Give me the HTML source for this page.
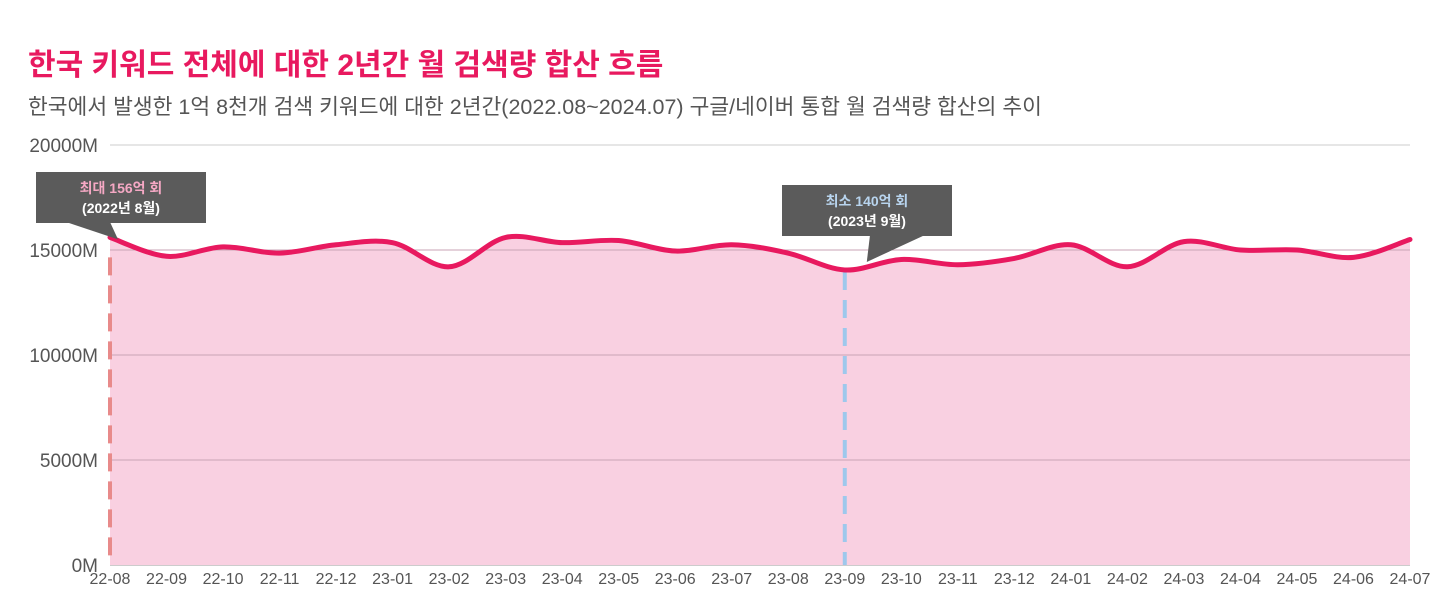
<!DOCTYPE html>
<html><head><meta charset="utf-8">
<style>
body{margin:0;background:#fff;width:1440px;height:602px;overflow:hidden;font-family:"Liberation Sans","Noto Sans CJK KR",sans-serif}
#title{position:absolute;left:28px;top:40px;font-size:30px;font-weight:bold;color:#e8195f;margin:0}
#sub{position:absolute;left:28px;top:90px;font-size:21.5px;color:#555;margin:0}
svg{position:absolute;left:0;top:0}
</style></head><body>
<h1 id="title">한국 키워드 전체에 대한 2년간 월 검색량 합산 흐름</h1>
<p id="sub">한국에서 발생한 1억 8천개 검색 키워드에 대한 2년간(2022.08~2024.07) 구글/네이버 통합 월 검색량 합산의 추이</p>
<svg id="chart" width="1440" height="602"></svg>
<script>
const categories=["22-08","22-09","22-10","22-11","22-12","23-01","23-02","23-03","23-04","23-05","23-06","23-07","23-08","23-09","23-10","23-11","23-12","24-01","24-02","24-03","24-04","24-05","24-06","24-07"];
const values=[15600,14700,15150,14850,15250,15350,14200,15600,15350,15450,14950,15250,14850,14050,14550,14300,14600,15250,14200,15400,15000,15000,14650,15500];
const yTicks=[0,5000,10000,15000,20000];
const yTickLabels=["0M","5000M","10000M","15000M","20000M"];
const NS="http://www.w3.org/2000/svg";
const svg=document.getElementById('chart');
const x0=110,x1=1410,yb=565,yt=145;
const xs=i=>x0+i*(x1-x0)/(categories.length-1);
const ys=v=>yb-v/20000*(yb-yt);
function mk(t,a,p){const e=document.createElementNS(NS,t);for(const k in a)e.setAttribute(k,a[k]);(p||svg).appendChild(e);return e;}
yTicks.forEach((v,i)=>{
 const l=mk('line',{x1:x0,x2:x1,y1:ys(v),y2:ys(v),stroke:i==0?'#999':(i==4?'#ccc':'#c9aab8'),'stroke-width':1});
 
 
 const t=mk('text',{x:x0-12,y:ys(v)+7,'text-anchor':'end','font-size':19,fill:'#555'});
 t.textContent=yTickLabels[i];
 
 
});
const pts=values.map((v,i)=>[xs(i),ys(v)]);
let d=`M${pts[0][0]},${pts[0][1]}`;
for(let i=0;i<pts.length-1;i++){
 const p0=pts[Math.max(0,i-1)],p1=pts[i],p2=pts[i+1],p3=pts[Math.min(pts.length-1,i+2)];
 const c1=[p1[0]+(p2[0]-p0[0])/6,p1[1]+(p2[1]-p0[1])/6],c2=[p2[0]-(p3[0]-p1[0])/6,p2[1]-(p3[1]-p1[1])/6];
 d+=`C${c1[0]},${c1[1]} ${c2[0]},${c2[1]} ${p2[0]},${p2[1]}`;
}
const area=mk('path',{d:d+`L${x1},${yb}L${x0},${yb}Z`,fill:'#f9d0e1'});


yTicks.slice(1,4).forEach(v=>{const l=mk('line',{x1:x0,x2:x1,y1:ys(v),y2:ys(v),stroke:'#c9a3b5','stroke-width':1});
 
 });
let maxI=0,minI=0;values.forEach((v,i)=>{if(v>values[maxI])maxI=i;if(v<values[minI])minI=i;});
const mx=mk('line',{x1:xs(maxI),x2:xs(maxI),y1:ys(values[maxI])+20,y2:yb,stroke:'#e88a8a','stroke-width':4,'stroke-dasharray':'18,10'});


const mn=mk('line',{x1:xs(minI),x2:xs(minI),y1:ys(values[minI])+2,y2:yb,stroke:'#9ec8ec','stroke-width':4,'stroke-dasharray':'18,10'});


const line=mk('path',{d:d,fill:'none',stroke:'#e8195f','stroke-width':5,'stroke-linecap':'round'});


categories.forEach((c,i)=>{const t=mk('text',{x:xs(i),y:584,'text-anchor':'middle','font-size':16,fill:'#555'});t.textContent=c;
 
 });
function callout(bx,by,tx,ty,a,b,l1,l2,col,name){
 const g=mk('g',{});
 
 
 mk('rect',{x:bx,y:by,width:170,height:51,fill:'#5b5b5b'},g);
 mk('polygon',{points:`${a},${by+50} ${b},${by+50} ${tx},${ty}`,fill:'#5b5b5b'},g);
 const t1=mk('text',{x:bx+85,y:by+21,'text-anchor':'middle','font-size':14,'font-weight':'bold',fill:col},g);t1.textContent=l1;
 const t2=mk('text',{x:bx+85,y:by+41,'text-anchor':'middle','font-size':14,'font-weight':'bold',fill:'#fff'},g);t2.textContent=l2;
}
callout(36,172,xs(maxI)+8,ys(values[maxI])+2,66,110,'최대 156억 회','(2022년 8월)','#f5a8c4','max-callout');
callout(782,185,xs(minI)+22,ys(values[minI])-8,870,925,'최소 140억 회','(2023년 9월)','#b8d4ee','min-callout');
</script>
</body></html>
